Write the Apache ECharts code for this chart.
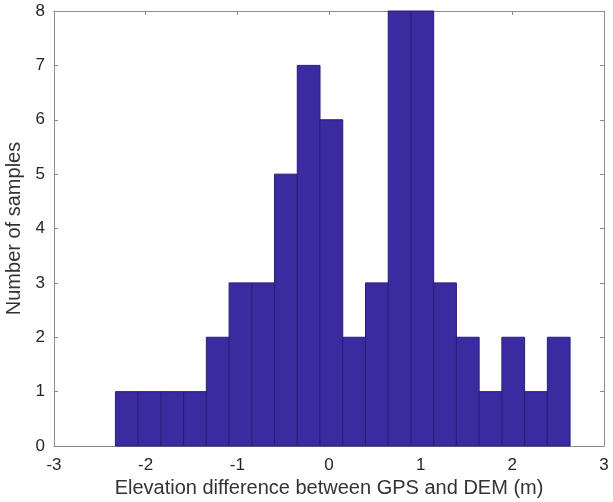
<!DOCTYPE html>
<html><head><meta charset="utf-8">
<script src="https://cdn.jsdelivr.net/npm/echarts@6/dist/echarts.min.js"></script>
<style>html,body{margin:0;padding:0;background:#fff}#c{width:613px;height:502px}</style>
</head><body><div id="c"></div>
<script>
const binStart = -2.33;
const binWidth = 0.248;
const counts = [1,1,1,1,2,3,3,5,7,6,2,3,8,8,3,2,1,2,1,2];
const xTicks = [-3,-2,-1,0,1,2,3];
const yTicks = [0,1,2,3,4,5,6,7,8];

const data = counts.map((c,i)=>[binStart+i*binWidth, binStart+(i+1)*binWidth, c]);
const font = 'Liberation Sans, Arial, sans-serif';
const axisCol = '#8c8c8c';
const chart = echarts.init(document.getElementById('c'));
const common = () => ({
  axisLine:{show:true,onZero:false,lineStyle:{color:axisCol,width:1}},
  axisTick:{show:true,inside:true,length:4,lineStyle:{color:axisCol}},
  splitLine:{show:false}
});
chart.setOption({
  animation:false,
  grid:{left:54,right:9,top:11,bottom:56,containLabel:false,outerBoundsMode:'none'},
  xAxis:[
    Object.assign({type:'value',min:-3,max:3,interval:1,
      name:'Elevation difference between GPS and DEM (m)',nameLocation:'middle',nameGap:30,
      nameTextStyle:{fontFamily:font,fontSize:20,color:'#333'},
      axisLabel:{fontFamily:font,fontSize:17,color:'#262626',margin:11}},common()),
    Object.assign({type:'value',min:-3,max:3,interval:1,position:'top',axisLabel:{show:false}},common())
  ],
  yAxis:[
    Object.assign({type:'value',min:0,max:8,interval:1,
      name:'Number of samples',nameLocation:'middle',nameGap:20,
      nameTextStyle:{fontFamily:font,fontSize:20,color:'#333'},
      axisLabel:{fontFamily:font,fontSize:17,color:'#262626',margin:9}},common()),
    Object.assign({type:'value',min:0,max:8,interval:1,position:'right',axisLabel:{show:false}},common())
  ],
  series:[{
    type:'custom',
    data:data,
    encode:{x:[0,1],y:2},
    renderItem:function(params,api){
      const p0 = api.coord([api.value(0),0]);
      const p1 = api.coord([api.value(1),api.value(2)]);
      return {type:'rect',shape:{x:p0[0],y:p1[1],width:p1[0]-p0[0],height:p0[1]-p1[1]},
        style:{fill:'#3b2ba0',stroke:'#2a1e78',lineWidth:1}};
    }
  }]
});
</script></body></html>
